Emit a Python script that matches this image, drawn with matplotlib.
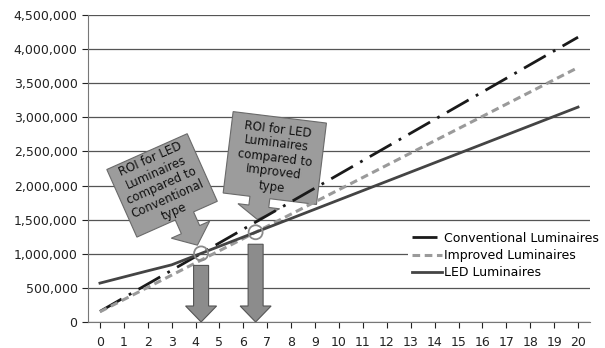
import numpy as np
import matplotlib
matplotlib.use("Agg")
import matplotlib.pyplot as plt
from matplotlib.patches import Polygon, Circle
from matplotlib.transforms import IdentityTransform, Affine2D

# values
years = list(range(21))
conventional = [155000, 356000, 557000, 758000, 959000, 1160000, 1361000, 1562000, 1763000, 1964000,
                2165000, 2366000, 2567000, 2768000, 2969000, 3170000, 3371000, 3572000, 3773000, 3974000, 4175000]
improved = [150000, 329000, 508000, 687000, 866000, 1045000, 1224000, 1403000, 1582000, 1761000,
            1940000, 2119000, 2298000, 2477000, 2656000, 2835000, 3014000, 3193000, 3372000, 3551000, 3730000]
led = [570000, 660000, 750000, 838000, 974000, 1110000, 1246000, 1382000, 1518000, 1654000,
       1790000, 1926000, 2062000, 2198000, 2334000, 2470000, 2606000, 2742000, 2878000, 3014000, 3150000]
series_labels = ["Conventional Luminaires", "Improved Luminaires", "LED Luminaires"]
callout_texts = ["ROI for LED\nLuminaires\ncompared to\nConventional\ntype",
                 "ROI for LED\nLuminaires\ncompared to\nImproved\ntype"]

# callout look: rotation, gap to circle, box centre offset from tip and box size (pixels)
callout_style = [
    dict(angle=24, gap=9, cx=-8, cy=69, w=88, h=74),
    dict(angle=-7, gap=13, cx=10, cy=63, w=94, h=82),
]

DPI = 100
fig = plt.figure(figsize=(6.05, 3.48), dpi=DPI)
ax = fig.add_axes([88 / 605, 26 / 348, 502 / 605, 307 / 348])

ax.set_xlim(-0.5, 20.5)
ax.set_ylim(0, 4500000)
ax.set_xticks(years)
ax.set_yticks(np.arange(0, 4500001, 500000))
ax.set_yticklabels([f"{v:,}" for v in np.arange(0, 4500001, 500000)])
ax.tick_params(labelsize=9, colors="#222222", length=4, width=0.8)
ax.tick_params(axis="x", pad=6)
for s in ["top", "right"]:
    ax.spines[s].set_visible(False)
for s in ["left", "bottom"]:
    ax.spines[s].set_color("#777777")
ax.grid(axis="y", color="#555555", lw=0.9)
ax.set_axisbelow(True)

ax.plot(years, conventional, color="#1a1a1a", lw=2, ls=(0, (9, 3, 1, 3)), label=series_labels[0], zorder=3)
ax.plot(years, improved, color="#9a9a9a", lw=2.2, ls=(0, (2.5, 1.5)), label=series_labels[1], zorder=3)
ax.plot(years, led, color="#444444", lw=2, label=series_labels[2], zorder=3)

leg = ax.legend(loc="upper left", bbox_to_anchor=(0.637, 0.307), frameon=True, facecolor="white",
                edgecolor="none", framealpha=1, fancybox=False, fontsize=9, handlelength=2.4,
                handletextpad=0.2, labelspacing=0.35, borderpad=0.3, borderaxespad=0)
leg.set_zorder(10)


def crossing(a, b):
    d = np.array(a, float) - np.array(b, float)
    for i in range(len(d) - 1):
        if d[i] > 0 >= d[i + 1]:
            f = d[i] / (d[i] - d[i + 1])
            return years[i] + f, a[i] + f * (a[i + 1] - a[i])


def draw_callout(tip, st, text):
    # down-arrow callout in local pixels, tip at origin, box above it
    x0, x1 = st["cx"] - st["w"] / 2, st["cx"] + st["w"] / 2
    y0, y1 = st["cy"] - st["h"] / 2, st["cy"] + st["h"] / 2
    hl = min(17, y0 * 0.6)
    shape = np.array([[0, 0], [-21, hl], [-10, hl], [-10, y0], [x0, y0], [x0, y1],
                      [x1, y1], [x1, y0], [10, y0], [10, hl], [21, hl]], float)
    tr = Affine2D().rotate_deg(st["angle"]).translate(*tip)
    ax.add_patch(Polygon(tr.transform(shape), closed=True, transform=IdentityTransform(),
                         facecolor="#9c9c9c", edgecolor="#6a6a6a", lw=0.8, zorder=2))
    tx, ty = tr.transform([[st["cx"], st["cy"]]])[0]
    ax.text(tx, ty, text, transform=IdentityTransform(), rotation=st["angle"], rotation_mode="anchor",
            ha="center", va="center", fontsize=8.5, color="#111111", linespacing=1.15, zorder=2.1)


def down_arrow(top):
    return np.array([[0, 0], [-15.5, 16], [-7.5, 16], [-7.5, top], [7.5, top], [7.5, 16], [15.5, 16]], float)


for other, text, st in zip([conventional, improved], callout_texts, callout_style):
    cx, cy = crossing(led, other)
    px, py = ax.transData.transform((cx, cy))
    bx, by = ax.transData.transform((cx, 0))
    ax.add_patch(Circle((px, py), 7, transform=IdentityTransform(), facecolor="none",
                        edgecolor="#8a8a8a", lw=1.3, zorder=4))
    d = np.radians(st["angle"])
    tip = (px - st["gap"] * np.sin(d), py + st["gap"] * np.cos(d))
    draw_callout(tip, st, text)
    arrow = down_arrow((py - 12) - by) + [px, by]
    ax.add_patch(Polygon(arrow, closed=True, transform=IdentityTransform(), facecolor="#8c8c8c",
                         edgecolor="#555555", lw=0.8, zorder=5))

fig.savefig("out.png", dpi=DPI)
